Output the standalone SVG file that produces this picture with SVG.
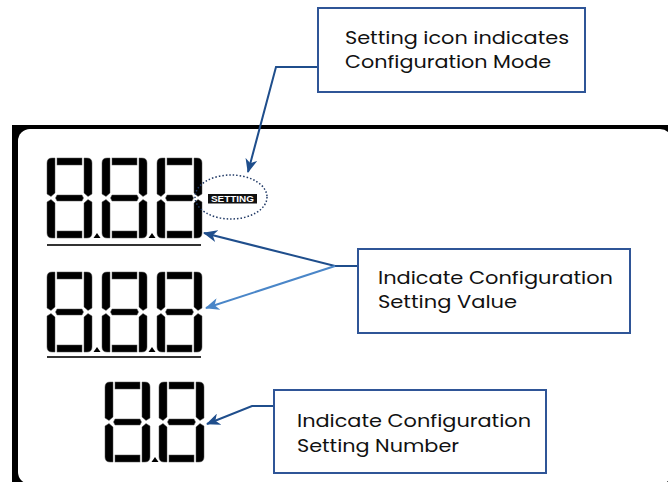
<svg xmlns="http://www.w3.org/2000/svg" xmlns:xlink="http://www.w3.org/1999/xlink" width="668" height="482" viewBox="0 0 668 482">
<style>
.seg{fill:#000;stroke:#555;stroke-width:0.5}
.dp{fill:#000}
.ul{stroke:#333;stroke-width:2}
.box{fill:#fff;stroke:#2f5597;stroke-width:2}
.lbl{font-family:"Poppins","Open Sans","Liberation Sans",sans-serif;font-size:18px;fill:#111}
.con{fill:none;stroke:#1f4e8c;stroke-width:2}
.con2{fill:none;stroke:#4a86c8;stroke-width:2}
</style>
<defs>
<g id="digit">
<rect class="seg" x="10" y="0" width="25" height="7"/>
<path class="seg" d="M10,37 H35 L36.5,40 L35,43 H10 L8.5,40 Z"/>
<rect class="seg" x="10" y="73" width="25" height="7"/>
<path class="seg" d="M5,0 H8 V35 L4,38.5 L0,36 V5 Q0,0 5,0 Z"/>
<path class="seg" d="M40,0 H37 V35 L41,38.5 L45,36 V5 Q45,0 40,0 Z"/>
<path class="seg" d="M0,44 L4,41.5 L8,45 V80 H5 Q0,80 0,75 Z"/>
<path class="seg" d="M45,44 L41,41.5 L37,45 V80 H40 Q45,80 45,75 Z"/>
</g>
<path id="dot" class="dp" d="M-3.5,0 L3.5,0 L0,-5 Z"/>
<marker id="ah" viewBox="0 0 14 12" refX="13" refY="6" markerWidth="14" markerHeight="12" markerUnits="userSpaceOnUse" orient="auto">
<path d="M0,0 L14,6 L0,12 L4,6 Z" fill="#1f4e8c"/>
</marker>
<marker id="ah2" viewBox="0 0 14 12" refX="13" refY="6" markerWidth="14" markerHeight="12" markerUnits="userSpaceOnUse" orient="auto">
<path d="M0,0 L14,6 L0,12 L4,6 Z" fill="#4a86c8"/>
</marker>
</defs>
<rect width="668" height="482" fill="#fff"/>
<g id="lcd">
<rect x="12" y="125" width="670" height="370" fill="#000"/>
<rect x="18" y="129" width="654" height="355" rx="12" ry="12" fill="#fff"/>
</g>
<g id="row1">
<use xlink:href="#digit" x="47" y="158"/>
<use xlink:href="#digit" x="102" y="158"/>
<use xlink:href="#digit" x="157" y="158"/>
<use xlink:href="#dot" x="97" y="238"/>
<use xlink:href="#dot" x="152" y="238"/>
<line class="ul" x1="47" y1="245" x2="201" y2="245"/>
</g>
<g id="row2">
<use xlink:href="#digit" x="47" y="272"/>
<use xlink:href="#digit" x="102" y="272"/>
<use xlink:href="#digit" x="157" y="272"/>
<use xlink:href="#dot" x="97" y="352"/>
<use xlink:href="#dot" x="152" y="352"/>
<line class="ul" x1="47" y1="357" x2="201" y2="357"/>
</g>
<g id="row3">
<use xlink:href="#digit" x="105" y="382"/>
<use xlink:href="#digit" x="159" y="382"/>
<use xlink:href="#dot" x="155" y="462"/>
</g>
<g id="setting-icon">
<rect x="208" y="194" width="49" height="9.5" fill="#111"/>
<text x="232.5" y="202.3" text-anchor="middle" font-family="'Liberation Sans',Arial,sans-serif" font-weight="bold" font-size="9" fill="#fff" textLength="43" lengthAdjust="spacingAndGlyphs">SETTING</text>
<ellipse cx="231" cy="197" rx="36" ry="22" fill="none" stroke="#1f3864" stroke-width="1.5" stroke-dasharray="1.5 2"/>
</g>
<g id="connectors">
<path class="con" d="M318,67 H276 L248,172" marker-end="url(#ah)"/>
<path class="con" d="M358,266 H335 L204,233" marker-end="url(#ah)"/>
<path class="con2" d="M335,266 L206,308" marker-end="url(#ah2)"/>
<path class="con" d="M274,406 H252 L207,424" marker-end="url(#ah)"/>
</g>
<g id="callout-mode">
<rect class="box" x="318" y="8" width="267" height="84"/>
<text class="lbl" x="345" y="44" textLength="224" lengthAdjust="spacingAndGlyphs">Setting icon indicates</text>
<text class="lbl" x="345" y="68" textLength="206" lengthAdjust="spacingAndGlyphs">Configuration Mode</text>
</g>
<g id="callout-value">
<rect class="box" x="358" y="249" width="272" height="84"/>
<text class="lbl" x="378" y="284" textLength="235" lengthAdjust="spacingAndGlyphs">Indicate Configuration</text>
<text class="lbl" x="378" y="308" textLength="139" lengthAdjust="spacingAndGlyphs">Setting Value</text>
</g>
<g id="callout-number">
<rect class="box" x="274" y="390" width="272" height="83"/>
<text class="lbl" x="297" y="427" textLength="234" lengthAdjust="spacingAndGlyphs">Indicate Configuration</text>
<text class="lbl" x="297" y="452" textLength="162" lengthAdjust="spacingAndGlyphs">Setting Number</text>
</g>
</svg>
